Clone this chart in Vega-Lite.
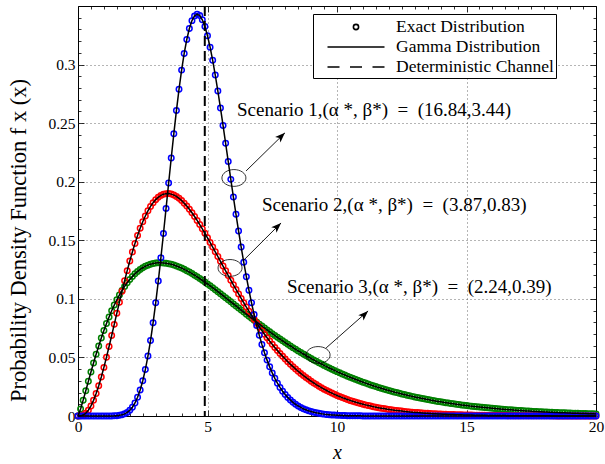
{
"$schema": "https://vega.github.io/schema/vega-lite/v6.json",
"width": 518, "height": 410,
"autosize": {"type": "none"},
"padding": {"left": 78, "top": 6, "right": 9, "bottom": 48},
"background": "white",
"config": {
 "view": {"stroke": "black", "strokeWidth": 1},
 "font": "Liberation Serif",
 "style": {"guide-label": {"font": "Liberation Serif"}, "guide-title": {"font": "Liberation Serif"}},
 "axis": {"labelFont": "Liberation Serif", "titleFont": "Liberation Serif", "labelFontSize": 15.5, "labelColor": "black", "titleColor": "black", "titleFontWeight": "normal", "domain": false, "tickColor": "black", "tickWidth": 0.8, "gridColor": "#444", "gridDash": [1, 3], "gridWidth": 0.8},
 "legend": {"labelFont": "Liberation Serif", "titleFont": "Liberation Serif"}
},
"resolve": {"axis": {"x": "independent", "y": "independent"}},
"datasets": {
 "curves": [
{"s":"3","x":0,"y":0},{"s":"3","x":0.1,"y":0.00596},{"s":"3","x":0.2,"y":0.01354},{"s":"3","x":0.3,"y":0.02153},{"s":"3","x":0.4,"y":0.02958},{"s":"3","x":0.5,"y":0.03752},{"s":"3","x":0.6,"y":0.04524},{"s":"3","x":0.7,"y":0.05267},{"s":"3","x":0.8,"y":0.05978},{"s":"3","x":0.9,"y":0.06653},
{"s":"3","x":1,"y":0.07292},{"s":"3","x":1.1,"y":0.07893},{"s":"3","x":1.2,"y":0.08456},{"s":"3","x":1.3,"y":0.08982},{"s":"3","x":1.4,"y":0.0947},{"s":"3","x":1.5,"y":0.0992},{"s":"3","x":1.6,"y":0.10335},{"s":"3","x":1.7,"y":0.10715},{"s":"3","x":1.8,"y":0.11064},{"s":"3","x":1.9,"y":0.11379},
{"s":"3","x":2,"y":0.1166},{"s":"3","x":2.1,"y":0.11915},{"s":"3","x":2.2,"y":0.1214},{"s":"3","x":2.3,"y":0.12337},{"s":"3","x":2.4,"y":0.12508},{"s":"3","x":2.5,"y":0.12654},{"s":"3","x":2.6,"y":0.12776},{"s":"3","x":2.7,"y":0.12877},{"s":"3","x":2.8,"y":0.12955},{"s":"3","x":2.9,"y":0.13013},
{"s":"3","x":3,"y":0.13054},{"s":"3","x":3.1,"y":0.13075},{"s":"3","x":3.2,"y":0.13081},{"s":"3","x":3.3,"y":0.13068},{"s":"3","x":3.4,"y":0.13043},{"s":"3","x":3.5,"y":0.13004},{"s":"3","x":3.6,"y":0.1295},{"s":"3","x":3.7,"y":0.12885},{"s":"3","x":3.8,"y":0.12809},{"s":"3","x":3.9,"y":0.12722},
{"s":"3","x":4,"y":0.12626},{"s":"3","x":4.1,"y":0.1252},{"s":"3","x":4.2,"y":0.12407},{"s":"3","x":4.3,"y":0.12286},{"s":"3","x":4.4,"y":0.12158},{"s":"3","x":4.5,"y":0.12024},{"s":"3","x":4.6,"y":0.11884},{"s":"3","x":4.7,"y":0.11737},{"s":"3","x":4.8,"y":0.11587},{"s":"3","x":4.9,"y":0.11431},
{"s":"3","x":5,"y":0.11274},{"s":"3","x":5.1,"y":0.11111},{"s":"3","x":5.2,"y":0.10948},{"s":"3","x":5.3,"y":0.1078},{"s":"3","x":5.4,"y":0.10611},{"s":"3","x":5.5,"y":0.10439},{"s":"3","x":5.6,"y":0.10268},{"s":"3","x":5.7,"y":0.10094},{"s":"3","x":5.8,"y":0.0992},{"s":"3","x":5.9,"y":0.09745},
{"s":"3","x":6,"y":0.09569},{"s":"3","x":6.1,"y":0.09394},{"s":"3","x":6.2,"y":0.09218},{"s":"3","x":6.3,"y":0.09043},{"s":"3","x":6.4,"y":0.08869},{"s":"3","x":6.5,"y":0.08695},{"s":"3","x":6.6,"y":0.08523},{"s":"3","x":6.7,"y":0.08351},{"s":"3","x":6.8,"y":0.08181},{"s":"3","x":6.9,"y":0.08011},
{"s":"3","x":7,"y":0.07843},{"s":"3","x":7.1,"y":0.07677},{"s":"3","x":7.2,"y":0.07513},{"s":"3","x":7.3,"y":0.07351},{"s":"3","x":7.4,"y":0.0719},{"s":"3","x":7.5,"y":0.07031},{"s":"3","x":7.6,"y":0.06873},{"s":"3","x":7.7,"y":0.06719},{"s":"3","x":7.8,"y":0.06566},{"s":"3","x":7.9,"y":0.06416},
{"s":"3","x":8,"y":0.06267},{"s":"3","x":8.1,"y":0.06121},{"s":"3","x":8.2,"y":0.05977},{"s":"3","x":8.3,"y":0.05836},{"s":"3","x":8.4,"y":0.05696},{"s":"3","x":8.5,"y":0.05559},{"s":"3","x":8.6,"y":0.05425},{"s":"3","x":8.7,"y":0.05292},{"s":"3","x":8.8,"y":0.05163},{"s":"3","x":8.9,"y":0.05036},
{"s":"3","x":9,"y":0.0491},{"s":"3","x":9.1,"y":0.04788},{"s":"3","x":9.2,"y":0.04667},{"s":"3","x":9.3,"y":0.04549},{"s":"3","x":9.4,"y":0.04434},{"s":"3","x":9.5,"y":0.04321},{"s":"3","x":9.6,"y":0.0421},{"s":"3","x":9.7,"y":0.04101},{"s":"3","x":9.8,"y":0.03995},{"s":"3","x":9.9,"y":0.0389},
{"s":"3","x":10,"y":0.03788},{"s":"3","x":10.1,"y":0.03689},{"s":"3","x":10.2,"y":0.03591},{"s":"3","x":10.3,"y":0.03496},{"s":"3","x":10.4,"y":0.03403},{"s":"3","x":10.5,"y":0.03312},{"s":"3","x":10.6,"y":0.03223},{"s":"3","x":10.7,"y":0.03135},{"s":"3","x":10.8,"y":0.03051},{"s":"3","x":10.9,"y":0.02968},
{"s":"3","x":11,"y":0.02887},{"s":"3","x":11.1,"y":0.02808},{"s":"3","x":11.2,"y":0.0273},{"s":"3","x":11.3,"y":0.02655},{"s":"3","x":11.4,"y":0.02582},{"s":"3","x":11.5,"y":0.0251},{"s":"3","x":11.6,"y":0.0244},{"s":"3","x":11.7,"y":0.02372},{"s":"3","x":11.8,"y":0.02305},{"s":"3","x":11.9,"y":0.0224},
{"s":"3","x":12,"y":0.02177},{"s":"3","x":12.1,"y":0.02116},{"s":"3","x":12.2,"y":0.02055},{"s":"3","x":12.3,"y":0.01997},{"s":"3","x":12.4,"y":0.0194},{"s":"3","x":12.5,"y":0.01884},{"s":"3","x":12.6,"y":0.0183},{"s":"3","x":12.7,"y":0.01778},{"s":"3","x":12.8,"y":0.01726},{"s":"3","x":12.9,"y":0.01676},
{"s":"3","x":13,"y":0.01628},{"s":"3","x":13.1,"y":0.01581},{"s":"3","x":13.2,"y":0.01534},{"s":"3","x":13.3,"y":0.0149},{"s":"3","x":13.4,"y":0.01446},{"s":"3","x":13.5,"y":0.01404},{"s":"3","x":13.6,"y":0.01362},{"s":"3","x":13.7,"y":0.01322},{"s":"3","x":13.8,"y":0.01283},{"s":"3","x":13.9,"y":0.01245},
{"s":"3","x":14,"y":0.01208},{"s":"3","x":14.1,"y":0.01172},{"s":"3","x":14.2,"y":0.01137},{"s":"3","x":14.3,"y":0.01104},{"s":"3","x":14.4,"y":0.01071},{"s":"3","x":14.5,"y":0.01038},{"s":"3","x":14.6,"y":0.01007},{"s":"3","x":14.7,"y":0.00977},{"s":"3","x":14.8,"y":0.00948},{"s":"3","x":14.9,"y":0.00919},
{"s":"3","x":15,"y":0.00891},{"s":"3","x":15.1,"y":0.00864},{"s":"3","x":15.2,"y":0.00838},{"s":"3","x":15.3,"y":0.00813},{"s":"3","x":15.4,"y":0.00788},{"s":"3","x":15.5,"y":0.00764},{"s":"3","x":15.6,"y":0.0074},{"s":"3","x":15.7,"y":0.00718},{"s":"3","x":15.8,"y":0.00696},{"s":"3","x":15.9,"y":0.00674},
{"s":"3","x":16,"y":0.00654},{"s":"3","x":16.1,"y":0.00634},{"s":"3","x":16.2,"y":0.00614},{"s":"3","x":16.3,"y":0.00595},{"s":"3","x":16.4,"y":0.00577},{"s":"3","x":16.5,"y":0.00559},{"s":"3","x":16.6,"y":0.00542},{"s":"3","x":16.7,"y":0.00525},{"s":"3","x":16.8,"y":0.00508},{"s":"3","x":16.9,"y":0.00493},
{"s":"3","x":17,"y":0.00477},{"s":"3","x":17.1,"y":0.00462},{"s":"3","x":17.2,"y":0.00448},{"s":"3","x":17.3,"y":0.00434},{"s":"3","x":17.4,"y":0.0042},{"s":"3","x":17.5,"y":0.00407},{"s":"3","x":17.6,"y":0.00394},{"s":"3","x":17.7,"y":0.00382},{"s":"3","x":17.8,"y":0.0037},{"s":"3","x":17.9,"y":0.00358},
{"s":"3","x":18,"y":0.00347},{"s":"3","x":18.1,"y":0.00336},{"s":"3","x":18.2,"y":0.00325},{"s":"3","x":18.3,"y":0.00315},{"s":"3","x":18.4,"y":0.00305},{"s":"3","x":18.5,"y":0.00295},{"s":"3","x":18.6,"y":0.00286},{"s":"3","x":18.7,"y":0.00277},{"s":"3","x":18.8,"y":0.00268},{"s":"3","x":18.9,"y":0.00259},
{"s":"3","x":19,"y":0.00251},{"s":"3","x":19.1,"y":0.00243},{"s":"3","x":19.2,"y":0.00235},{"s":"3","x":19.3,"y":0.00228},{"s":"3","x":19.4,"y":0.0022},{"s":"3","x":19.5,"y":0.00213},{"s":"3","x":19.6,"y":0.00206},{"s":"3","x":19.7,"y":0.002},{"s":"3","x":19.8,"y":0.00193},{"s":"3","x":19.9,"y":0.00187},{"s":"3","x":20,"y":0.00181},
{"s":"2","x":0,"y":0},{"s":"2","x":0.1,"y":0.00012},{"s":"2","x":0.2,"y":0.0008},{"s":"2","x":0.3,"y":0.00234},{"s":"2","x":0.4,"y":0.00492},{"s":"2","x":0.5,"y":0.0086},{"s":"2","x":0.6,"y":0.01336},{"s":"2","x":0.7,"y":0.01913},{"s":"2","x":0.8,"y":0.02583},{"s":"2","x":0.9,"y":0.03332},
{"s":"2","x":1,"y":0.0415},{"s":"2","x":1.1,"y":0.05021},{"s":"2","x":1.2,"y":0.05932},{"s":"2","x":1.3,"y":0.06871},{"s":"2","x":1.4,"y":0.07822},{"s":"2","x":1.5,"y":0.08776},{"s":"2","x":1.6,"y":0.09719},{"s":"2","x":1.7,"y":0.10644},{"s":"2","x":1.8,"y":0.11544},{"s":"2","x":1.9,"y":0.1241},
{"s":"2","x":2,"y":0.13229},{"s":"2","x":2.1,"y":0.14006},{"s":"2","x":2.2,"y":0.14734},{"s":"2","x":2.3,"y":0.15404},{"s":"2","x":2.4,"y":0.16021},{"s":"2","x":2.5,"y":0.16577},{"s":"2","x":2.6,"y":0.17073},{"s":"2","x":2.7,"y":0.17514},{"s":"2","x":2.8,"y":0.17889},{"s":"2","x":2.9,"y":0.18209},
{"s":"2","x":3,"y":0.18471},{"s":"2","x":3.1,"y":0.18677},{"s":"2","x":3.2,"y":0.18833},{"s":"2","x":3.3,"y":0.18929},{"s":"2","x":3.4,"y":0.18982},{"s":"2","x":3.5,"y":0.18986},{"s":"2","x":3.6,"y":0.18942},{"s":"2","x":3.7,"y":0.18859},{"s":"2","x":3.8,"y":0.18741},{"s":"2","x":3.9,"y":0.18584},
{"s":"2","x":4,"y":0.18392},{"s":"2","x":4.1,"y":0.1817},{"s":"2","x":4.2,"y":0.1792},{"s":"2","x":4.3,"y":0.17644},{"s":"2","x":4.4,"y":0.17347},{"s":"2","x":4.5,"y":0.1703},{"s":"2","x":4.6,"y":0.16695},{"s":"2","x":4.7,"y":0.16343},{"s":"2","x":4.8,"y":0.15976},{"s":"2","x":4.9,"y":0.15599},
{"s":"2","x":5,"y":0.15213},{"s":"2","x":5.1,"y":0.1482},{"s":"2","x":5.2,"y":0.14425},{"s":"2","x":5.3,"y":0.1402},{"s":"2","x":5.4,"y":0.13615},{"s":"2","x":5.5,"y":0.13206},{"s":"2","x":5.6,"y":0.12802},{"s":"2","x":5.7,"y":0.12396},{"s":"2","x":5.8,"y":0.11994},{"s":"2","x":5.9,"y":0.11594},
{"s":"2","x":6,"y":0.11197},{"s":"2","x":6.1,"y":0.10805},{"s":"2","x":6.2,"y":0.10417},{"s":"2","x":6.3,"y":0.10038},{"s":"2","x":6.4,"y":0.09668},{"s":"2","x":6.5,"y":0.09303},{"s":"2","x":6.6,"y":0.08946},{"s":"2","x":6.7,"y":0.08595},{"s":"2","x":6.8,"y":0.08254},{"s":"2","x":6.9,"y":0.07922},
{"s":"2","x":7,"y":0.07598},{"s":"2","x":7.1,"y":0.07284},{"s":"2","x":7.2,"y":0.06979},{"s":"2","x":7.3,"y":0.06682},{"s":"2","x":7.4,"y":0.06395},{"s":"2","x":7.5,"y":0.06117},{"s":"2","x":7.6,"y":0.05846},{"s":"2","x":7.7,"y":0.05587},{"s":"2","x":7.8,"y":0.05336},{"s":"2","x":7.9,"y":0.05095},
{"s":"2","x":8,"y":0.0486},{"s":"2","x":8.1,"y":0.04637},{"s":"2","x":8.2,"y":0.04419},{"s":"2","x":8.3,"y":0.04212},{"s":"2","x":8.4,"y":0.04011},{"s":"2","x":8.5,"y":0.0382},{"s":"2","x":8.6,"y":0.03636},{"s":"2","x":8.7,"y":0.03459},{"s":"2","x":8.8,"y":0.0329},{"s":"2","x":8.9,"y":0.03128},
{"s":"2","x":9,"y":0.02972},{"s":"2","x":9.1,"y":0.02824},{"s":"2","x":9.2,"y":0.02681},{"s":"2","x":9.3,"y":0.02545},{"s":"2","x":9.4,"y":0.02416},{"s":"2","x":9.5,"y":0.02292},{"s":"2","x":9.6,"y":0.02174},{"s":"2","x":9.7,"y":0.02061},{"s":"2","x":9.8,"y":0.01954},{"s":"2","x":9.9,"y":0.01851},
{"s":"2","x":10,"y":0.01754},{"s":"2","x":10.1,"y":0.0166},{"s":"2","x":10.2,"y":0.01572},{"s":"2","x":10.3,"y":0.01488},{"s":"2","x":10.4,"y":0.01408},{"s":"2","x":10.5,"y":0.01332},{"s":"2","x":10.6,"y":0.0126},{"s":"2","x":10.7,"y":0.01191},{"s":"2","x":10.8,"y":0.01126},{"s":"2","x":10.9,"y":0.01064},
{"s":"2","x":11,"y":0.01005},{"s":"2","x":11.1,"y":0.00949},{"s":"2","x":11.2,"y":0.00897},{"s":"2","x":11.3,"y":0.00847},{"s":"2","x":11.4,"y":0.00799},{"s":"2","x":11.5,"y":0.00754},{"s":"2","x":11.6,"y":0.00712},{"s":"2","x":11.7,"y":0.00671},{"s":"2","x":11.8,"y":0.00633},{"s":"2","x":11.9,"y":0.00597},
{"s":"2","x":12,"y":0.00563},{"s":"2","x":12.1,"y":0.0053},{"s":"2","x":12.2,"y":0.005},{"s":"2","x":12.3,"y":0.00471},{"s":"2","x":12.4,"y":0.00444},{"s":"2","x":12.5,"y":0.00418},{"s":"2","x":12.6,"y":0.00393},{"s":"2","x":12.7,"y":0.0037},{"s":"2","x":12.8,"y":0.00349},{"s":"2","x":12.9,"y":0.00328},
{"s":"2","x":13,"y":0.00309},{"s":"2","x":13.1,"y":0.0029},{"s":"2","x":13.2,"y":0.00273},{"s":"2","x":13.3,"y":0.00257},{"s":"2","x":13.4,"y":0.00242},{"s":"2","x":13.5,"y":0.00227},{"s":"2","x":13.6,"y":0.00214},{"s":"2","x":13.7,"y":0.00201},{"s":"2","x":13.8,"y":0.00189},{"s":"2","x":13.9,"y":0.00177},
{"s":"2","x":14,"y":0.00167},{"s":"2","x":14.1,"y":0.00156},{"s":"2","x":14.2,"y":0.00147},{"s":"2","x":14.3,"y":0.00138},{"s":"2","x":14.4,"y":0.0013},{"s":"2","x":14.5,"y":0.00122},{"s":"2","x":14.6,"y":0.00114},{"s":"2","x":14.7,"y":0.00107},{"s":"2","x":14.8,"y":0.00101},{"s":"2","x":14.9,"y":0.00094},
{"s":"2","x":15,"y":0.00089},{"s":"2","x":15.1,"y":0.00083},{"s":"2","x":15.2,"y":0.00078},{"s":"2","x":15.3,"y":0.00073},{"s":"2","x":15.4,"y":0.00069},{"s":"2","x":15.5,"y":0.00064},{"s":"2","x":15.6,"y":0.0006},{"s":"2","x":15.7,"y":0.00056},{"s":"2","x":15.8,"y":0.00053},{"s":"2","x":15.9,"y":0.0005},
{"s":"2","x":16,"y":0.00046},{"s":"2","x":16.1,"y":0.00044},{"s":"2","x":16.2,"y":0.00041},{"s":"2","x":16.3,"y":0.00038},{"s":"2","x":16.4,"y":0.00036},{"s":"2","x":16.5,"y":0.00034},{"s":"2","x":16.6,"y":0.00031},{"s":"2","x":16.7,"y":0.00029},{"s":"2","x":16.8,"y":0.00028},{"s":"2","x":16.9,"y":0.00026},
{"s":"2","x":17,"y":0.00024},{"s":"2","x":17.1,"y":0.00023},{"s":"2","x":17.2,"y":0.00021},{"s":"2","x":17.3,"y":0.0002},{"s":"2","x":17.4,"y":0.00018},{"s":"2","x":17.5,"y":0.00017},{"s":"2","x":17.6,"y":0.00016},{"s":"2","x":17.7,"y":0.00015},{"s":"2","x":17.8,"y":0.00014},{"s":"2","x":17.9,"y":0.00013},
{"s":"2","x":18,"y":0.00012},{"s":"2","x":18.1,"y":0.00012},{"s":"2","x":18.2,"y":0.00011},{"s":"2","x":18.3,"y":0.0001},{"s":"2","x":18.4,"y":0.0001},{"s":"2","x":18.5,"y":0.00009},{"s":"2","x":18.6,"y":0.00008},{"s":"2","x":18.7,"y":0.00008},{"s":"2","x":18.8,"y":0.00007},{"s":"2","x":18.9,"y":0.00007},
{"s":"2","x":19,"y":0.00006},{"s":"2","x":19.1,"y":0.00006},{"s":"2","x":19.2,"y":0.00006},{"s":"2","x":19.3,"y":0.00005},{"s":"2","x":19.4,"y":0.00005},{"s":"2","x":19.5,"y":0.00005},{"s":"2","x":19.6,"y":0.00004},{"s":"2","x":19.7,"y":0.00004},{"s":"2","x":19.8,"y":0.00004},{"s":"2","x":19.9,"y":0.00003},{"s":"2","x":20,"y":0.00003},
{"s":"1","x":0,"y":0},{"s":"1","x":0.1,"y":0},{"s":"1","x":0.2,"y":0},{"s":"1","x":0.3,"y":0},{"s":"1","x":0.4,"y":0},{"s":"1","x":0.5,"y":0},{"s":"1","x":0.6,"y":0},{"s":"1","x":0.7,"y":0},{"s":"1","x":0.8,"y":0},{"s":"1","x":0.9,"y":0},
{"s":"1","x":1,"y":0},{"s":"1","x":1.1,"y":0.00001},{"s":"1","x":1.2,"y":0.00002},{"s":"1","x":1.3,"y":0.00006},{"s":"1","x":1.4,"y":0.00014},{"s":"1","x":1.5,"y":0.00029},{"s":"1","x":1.6,"y":0.00057},{"s":"1","x":1.7,"y":0.00105},{"s":"1","x":1.8,"y":0.00184},{"s":"1","x":1.9,"y":0.00307},
{"s":"1","x":2,"y":0.00489},{"s":"1","x":2.1,"y":0.00751},{"s":"1","x":2.2,"y":0.01114},{"s":"1","x":2.3,"y":0.01596},{"s":"1","x":2.4,"y":0.02222},{"s":"1","x":2.5,"y":0.03006},{"s":"1","x":2.6,"y":0.03965},{"s":"1","x":2.7,"y":0.05116},{"s":"1","x":2.8,"y":0.06444},{"s":"1","x":2.9,"y":0.07966},
{"s":"1","x":3,"y":0.09662},{"s":"1","x":3.1,"y":0.11516},{"s":"1","x":3.2,"y":0.135},{"s":"1","x":3.3,"y":0.1558},{"s":"1","x":3.4,"y":0.17724},{"s":"1","x":3.5,"y":0.19888},{"s":"1","x":3.6,"y":0.22028},{"s":"1","x":3.7,"y":0.24103},{"s":"1","x":3.8,"y":0.2607},{"s":"1","x":3.9,"y":0.27889},
{"s":"1","x":4,"y":0.29526},{"s":"1","x":4.1,"y":0.30951},{"s":"1","x":4.2,"y":0.32141},{"s":"1","x":4.3,"y":0.33077},{"s":"1","x":4.4,"y":0.33751},{"s":"1","x":4.5,"y":0.34157},{"s":"1","x":4.6,"y":0.34299},{"s":"1","x":4.7,"y":0.34185},{"s":"1","x":4.8,"y":0.33827},{"s":"1","x":4.9,"y":0.33244},
{"s":"1","x":5,"y":0.32456},{"s":"1","x":5.1,"y":0.31487},{"s":"1","x":5.2,"y":0.30361},{"s":"1","x":5.3,"y":0.29104},{"s":"1","x":5.4,"y":0.27742},{"s":"1","x":5.5,"y":0.26301},{"s":"1","x":5.6,"y":0.24805},{"s":"1","x":5.7,"y":0.23275},{"s":"1","x":5.8,"y":0.21734},{"s":"1","x":5.9,"y":0.202},
{"s":"1","x":6,"y":0.18688},{"s":"1","x":6.1,"y":0.17214},{"s":"1","x":6.2,"y":0.15789},{"s":"1","x":6.3,"y":0.14422},{"s":"1","x":6.4,"y":0.13121},{"s":"1","x":6.5,"y":0.11891},{"s":"1","x":6.6,"y":0.10736},{"s":"1","x":6.7,"y":0.09658},{"s":"1","x":6.8,"y":0.08658},{"s":"1","x":6.9,"y":0.07735},
{"s":"1","x":7,"y":0.06887},{"s":"1","x":7.1,"y":0.06113},{"s":"1","x":7.2,"y":0.05408},{"s":"1","x":7.3,"y":0.0477},{"s":"1","x":7.4,"y":0.04195},{"s":"1","x":7.5,"y":0.03678},{"s":"1","x":7.6,"y":0.03216},{"s":"1","x":7.7,"y":0.02804},{"s":"1","x":7.8,"y":0.02439},{"s":"1","x":7.9,"y":0.02116},
{"s":"1","x":8,"y":0.01831},{"s":"1","x":8.1,"y":0.0158},{"s":"1","x":8.2,"y":0.01361},{"s":"1","x":8.3,"y":0.01169},{"s":"1","x":8.4,"y":0.01002},{"s":"1","x":8.5,"y":0.00857},{"s":"1","x":8.6,"y":0.00731},{"s":"1","x":8.7,"y":0.00622},{"s":"1","x":8.8,"y":0.00529},{"s":"1","x":8.9,"y":0.00448},
{"s":"1","x":9,"y":0.00379},{"s":"1","x":9.1,"y":0.0032},{"s":"1","x":9.2,"y":0.0027},{"s":"1","x":9.3,"y":0.00227},{"s":"1","x":9.4,"y":0.00191},{"s":"1","x":9.5,"y":0.0016},{"s":"1","x":9.6,"y":0.00134},{"s":"1","x":9.7,"y":0.00112},{"s":"1","x":9.8,"y":0.00093},{"s":"1","x":9.9,"y":0.00078},
{"s":"1","x":10,"y":0.00065},{"s":"1","x":10.1,"y":0.00054},{"s":"1","x":10.2,"y":0.00044},{"s":"1","x":10.3,"y":0.00037},{"s":"1","x":10.4,"y":0.0003},{"s":"1","x":10.5,"y":0.00025},{"s":"1","x":10.6,"y":0.00021},{"s":"1","x":10.7,"y":0.00017},{"s":"1","x":10.8,"y":0.00014},{"s":"1","x":10.9,"y":0.00012},
{"s":"1","x":11,"y":0.00009},{"s":"1","x":11.1,"y":0},{"s":"1","x":11.2,"y":0},{"s":"1","x":11.3,"y":0},{"s":"1","x":11.4,"y":0},{"s":"1","x":11.5,"y":0},{"s":"1","x":11.6,"y":0},{"s":"1","x":11.7,"y":0},{"s":"1","x":11.8,"y":0},{"s":"1","x":11.9,"y":0},
{"s":"1","x":12,"y":0},{"s":"1","x":12.1,"y":0},{"s":"1","x":12.2,"y":0},{"s":"1","x":12.3,"y":0},{"s":"1","x":12.4,"y":0},{"s":"1","x":12.5,"y":0},{"s":"1","x":12.6,"y":0},{"s":"1","x":12.7,"y":0},{"s":"1","x":12.8,"y":0},{"s":"1","x":12.9,"y":0},
{"s":"1","x":13,"y":0},{"s":"1","x":13.1,"y":0},{"s":"1","x":13.2,"y":0},{"s":"1","x":13.3,"y":0},{"s":"1","x":13.4,"y":0},{"s":"1","x":13.5,"y":0},{"s":"1","x":13.6,"y":0},{"s":"1","x":13.7,"y":0},{"s":"1","x":13.8,"y":0},{"s":"1","x":13.9,"y":0},
{"s":"1","x":14,"y":0},{"s":"1","x":14.1,"y":0},{"s":"1","x":14.2,"y":0},{"s":"1","x":14.3,"y":0},{"s":"1","x":14.4,"y":0},{"s":"1","x":14.5,"y":0},{"s":"1","x":14.6,"y":0},{"s":"1","x":14.7,"y":0},{"s":"1","x":14.8,"y":0},{"s":"1","x":14.9,"y":0},
{"s":"1","x":15,"y":0},{"s":"1","x":15.1,"y":0},{"s":"1","x":15.2,"y":0},{"s":"1","x":15.3,"y":0},{"s":"1","x":15.4,"y":0},{"s":"1","x":15.5,"y":0},{"s":"1","x":15.6,"y":0},{"s":"1","x":15.7,"y":0},{"s":"1","x":15.8,"y":0},{"s":"1","x":15.9,"y":0},
{"s":"1","x":16,"y":0},{"s":"1","x":16.1,"y":0},{"s":"1","x":16.2,"y":0},{"s":"1","x":16.3,"y":0},{"s":"1","x":16.4,"y":0},{"s":"1","x":16.5,"y":0},{"s":"1","x":16.6,"y":0},{"s":"1","x":16.7,"y":0},{"s":"1","x":16.8,"y":0},{"s":"1","x":16.9,"y":0},
{"s":"1","x":17,"y":0},{"s":"1","x":17.1,"y":0},{"s":"1","x":17.2,"y":0},{"s":"1","x":17.3,"y":0},{"s":"1","x":17.4,"y":0},{"s":"1","x":17.5,"y":0},{"s":"1","x":17.6,"y":0},{"s":"1","x":17.7,"y":0},{"s":"1","x":17.8,"y":0},{"s":"1","x":17.9,"y":0},
{"s":"1","x":18,"y":0},{"s":"1","x":18.1,"y":0},{"s":"1","x":18.2,"y":0},{"s":"1","x":18.3,"y":0},{"s":"1","x":18.4,"y":0},{"s":"1","x":18.5,"y":0},{"s":"1","x":18.6,"y":0},{"s":"1","x":18.7,"y":0},{"s":"1","x":18.8,"y":0},{"s":"1","x":18.9,"y":0},
{"s":"1","x":19,"y":0},{"s":"1","x":19.1,"y":0},{"s":"1","x":19.2,"y":0},{"s":"1","x":19.3,"y":0},{"s":"1","x":19.4,"y":0},{"s":"1","x":19.5,"y":0},{"s":"1","x":19.6,"y":0},{"s":"1","x":19.7,"y":0},{"s":"1","x":19.8,"y":0},{"s":"1","x":19.9,"y":0},{"s":"1","x":20,"y":0}
 ],
 "notes": [
  {"x": 6.14, "y": 0.2613, "label": "Scenario 1,(α *, β*)\u2002=\u2002(16.84,3.44)"},
  {"x": 7.10, "y": 0.1802, "label": "Scenario 2,(α *, β*)\u2002=\u2002(3.87,0.83)"},
  {"x": 8.07, "y": 0.1102, "label": "Scenario 3,(α *, β*)\u2002=\u2002(2.24,0.39)"}
 ],
 "ellipses": [
  {"x": 6.02, "y": 0.2032},
  {"x": 5.87, "y": 0.1264},
  {"x": 9.27, "y": 0.0521}
 ],
 "arrows": [
  {"x": 6.49, "y": 0.2092, "x2": 7.99, "y2": 0.2417},
  {"x": 6.37, "y": 0.1324, "x2": 7.84, "y2": 0.1648},
  {"x": 9.58, "y": 0.0581, "x2": 11.2, "y2": 0.0897}
 ],
 "mean": [{"x": 4.895}]
},
"layer": [
 {
  "data": {"name": "curves"},
  "mark": {"type": "point", "shape": "circle", "filled": false, "strokeWidth": 1.5, "size": 30, "opacity": 1},
  "encoding": {
   "x": {"field": "x", "type": "quantitative", "scale": {"domain": [0, 20], "nice": false},
    "axis": {"orient": "bottom", "title": "x", "titleFontSize": 20, "titleFontStyle": "italic", "titleY": 46, "titleBaseline": "bottom",
     "values": [0,0.5,1,1.5,2,2.5,3,3.5,4,4.5,5,5.5,6,6.5,7,7.5,8,8.5,9,9.5,10,10.5,11,11.5,12,12.5,13,13.5,14,14.5,15,15.5,16,16.5,17,17.5,18,18.5,19,19.5,20],
     "labelExpr": "datum.value % 5 === 0 ? format(datum.value, 'd') : ''",
     "labelPadding": 9, "labelFlush": false, "labelOverlap": false,
     "tickSize": {"condition": {"test": "datum.value % 5 === 0", "value": -6}, "value": -3},
     "grid": true,
     "gridOpacity": {"condition": {"test": "datum.value % 5 === 0 && datum.value > 0 && datum.value < 20", "value": 1}, "value": 0}}},
   "y": {"field": "y", "type": "quantitative", "scale": {"domain": [0, 0.35], "nice": false},
    "axis": {"orient": "left", "title": "Probability Density Function f  x (x)", "titleFontSize": 22.5, "titleX": -60, "titleY": 234, "titleBaseline": "middle", "titleAlign": "center",
     "values": [0,0.01,0.02,0.03,0.04,0.05,0.06,0.07,0.08,0.09,0.1,0.11,0.12,0.13,0.14,0.15,0.16,0.17,0.18,0.19,0.2,0.21,0.22,0.23,0.24,0.25,0.26,0.27,0.28,0.29,0.3,0.31,0.32,0.33,0.34,0.35],
     "labelExpr": "round(datum.value*100) % 5 === 0 && datum.value < 0.33 ? format(datum.value, '~g') : ''",
     "labelPadding": 9, "labelFlush": false, "labelOverlap": false,
     "tickSize": {"condition": {"test": "round(datum.value*100) % 5 === 0", "value": -6}, "value": -3},
     "grid": true,
     "gridOpacity": {"condition": {"test": "round(datum.value*100) % 5 === 0 && datum.value > 0 && datum.value < 0.33", "value": 1}, "value": 0}}},
   "color": {"field": "s", "type": "nominal", "scale": {"domain": ["1", "2", "3"], "range": ["#0000ff", "#ff0000", "#008000"]}, "legend": null}
  }
 },
 {
  "data": {"name": "curves"},
  "mark": {"type": "line", "color": "black", "strokeWidth": 1.5},
  "encoding": {
   "x": {"field": "x", "type": "quantitative", "scale": {"domain": [0, 20], "nice": false}, "axis": null},
   "y": {"field": "y", "type": "quantitative", "scale": {"domain": [0, 0.35], "nice": false}, "axis": null},
   "detail": {"field": "s", "type": "nominal"}
  }
 },
 {
  "data": {"name": "mean"},
  "mark": {"type": "rule", "color": "black", "strokeWidth": 2, "strokeDash": [10, 5]},
  "encoding": {
   "x": {"field": "x", "type": "quantitative", "scale": {"domain": [0, 20], "nice": false}, "axis": null}
  }
 },
 {
  "data": {"name": "mean"},
  "mark": {"type": "point", "filled": false, "opacity": 0, "color": "black"},
  "encoding": {
   "x": {"field": "x", "type": "quantitative", "scale": {"domain": [0, 20], "nice": false}, "axis": null},
   "shape": {"datum": "Exact Distribution",
    "scale": {"domain": ["Exact Distribution", "Gamma Distribution", "Deterministic Channel"],
     "range": ["M1.74,0A0.26,0.26,0,1,0,2.26,0A0.26,0.26,0,1,0,1.74,0Z", "M-0.85,0L4.85,0", "M-0.85,0L0.35,0M1.4,0L2.6,0M3.65,0L4.85,0"]},
    "legend": {"title": null, "orient": "none", "legendX": 235, "legendY": 8, "fillColor": "white", "strokeColor": "black", "padding": 2,
     "labelFontSize": 17.5, "labelFont": "Liberation Serif", "labelColor": "black", "labelOffset": 49, "symbolOffset": 10,
     "symbolSize": 400, "symbolStrokeWidth": 1.6, "symbolStrokeColor": "black", "symbolFillColor": "transparent", "symbolOpacity": 1, "rowPadding": 0,
     "encode": {"labels": {"update": {"font": {"value": "Liberation Serif"}, "fontSize": {"value": 17.5}}}}}}
  }
 },
 {
  "data": {"name": "ellipses"},
  "mark": {"type": "point", "shape": "M-1,0A1,0.7,0,1,0,1,0A1,0.7,0,1,0,-1,0Z", "filled": false, "color": "black", "strokeWidth": 0.8, "size": 576, "opacity": 1},
  "encoding": {
   "x": {"field": "x", "type": "quantitative", "scale": {"domain": [0, 20], "nice": false},
    "axis": {"orient": "top", "title": null, "labels": false, "grid": false,
     "values": [0,0.5,1,1.5,2,2.5,3,3.5,4,4.5,5,5.5,6,6.5,7,7.5,8,8.5,9,9.5,10,10.5,11,11.5,12,12.5,13,13.5,14,14.5,15,15.5,16,16.5,17,17.5,18,18.5,19,19.5,20],
     "tickSize": {"condition": {"test": "datum.value % 5 === 0", "value": -6}, "value": -3}}},
   "y": {"field": "y", "type": "quantitative", "scale": {"domain": [0, 0.35], "nice": false},
    "axis": {"orient": "right", "title": null, "labels": false, "grid": false,
     "values": [0,0.01,0.02,0.03,0.04,0.05,0.06,0.07,0.08,0.09,0.1,0.11,0.12,0.13,0.14,0.15,0.16,0.17,0.18,0.19,0.2,0.21,0.22,0.23,0.24,0.25,0.26,0.27,0.28,0.29,0.3,0.31,0.32,0.33,0.34,0.35],
     "tickSize": {"condition": {"test": "round(datum.value*100) % 5 === 0", "value": -6}, "value": -3}}}
  }
 },
 {
  "data": {"name": "arrows"},
  "mark": {"type": "rule", "color": "black", "strokeWidth": 0.9},
  "encoding": {
   "x": {"field": "x", "type": "quantitative", "scale": {"domain": [0, 20], "nice": false}, "axis": null},
   "y": {"field": "y", "type": "quantitative", "scale": {"domain": [0, 0.35], "nice": false}, "axis": null},
   "x2": {"field": "x2"},
   "y2": {"field": "y2"}
  }
 },
 {
  "data": {"name": "arrows"},
  "mark": {"type": "point", "shape": "M0,0L0.38,1L0,0.75L-0.38,1Z", "filled": true, "color": "black", "strokeWidth": 0, "size": 400, "angle": 46, "opacity": 1},
  "encoding": {
   "x": {"field": "x2", "type": "quantitative", "scale": {"domain": [0, 20], "nice": false}, "axis": null},
   "y": {"field": "y2", "type": "quantitative", "scale": {"domain": [0, 0.35], "nice": false}, "axis": null}
  }
 },
 {
  "data": {"name": "notes"},
  "mark": {"type": "text", "align": "left", "baseline": "middle", "font": "Liberation Serif", "fontSize": 19, "color": "black"},
  "encoding": {
   "x": {"field": "x", "type": "quantitative", "scale": {"domain": [0, 20], "nice": false}, "axis": null},
   "y": {"field": "y", "type": "quantitative", "scale": {"domain": [0, 0.35], "nice": false}, "axis": null},
   "text": {"field": "label"}
  }
 }
]
}
